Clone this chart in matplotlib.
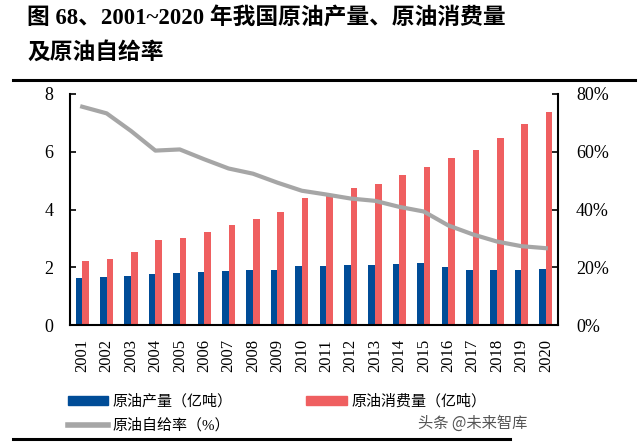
import numpy as np
import matplotlib
matplotlib.use('Agg')
import matplotlib.pyplot as plt
from matplotlib.patches import Patch
from matplotlib.lines import Line2D

years = [str(y) for y in range(2001, 2021)]
production = [1.64, 1.67, 1.70, 1.76, 1.81, 1.85, 1.86, 1.90, 1.89, 2.03,
              2.03, 2.07, 2.09, 2.11, 2.15, 2.00, 1.92, 1.89, 1.91, 1.95]
consumption = [2.20, 2.30, 2.54, 2.94, 3.01, 3.23, 3.46, 3.67, 3.90, 4.40,
               4.55, 4.76, 4.90, 5.20, 5.46, 5.78, 6.06, 6.48, 6.96, 7.36]
self_rate = [75.6, 73.3, 67.2, 60.4, 60.8, 57.4, 54.2, 52.4, 49.3, 46.5,
             45.2, 43.8, 43.0, 40.9, 39.3, 34.5, 31.4, 28.9, 27.3, 26.6]

BLUE = '#004C97'
RED = '#EF5F60'
GRAY = '#A6A6A6'
SERIF = ['Liberation Serif', 'Noto Sans CJK SC']
plt.rcParams['font.family'] = SERIF

fig = plt.figure(figsize=(6.4, 4.43), dpi=100)
W, H = 640, 443

# title
fig.text(27 / W, 1 - 19 / H, '图 68、2001~2020 年我国原油产量、原油消费量',
         fontsize=16.4, fontweight='bold', va='center', ha='left')
fig.text(27 / W, 1 - 53 / H, '及原油自给率',
         fontsize=16.4, fontweight='bold', va='center', ha='left')

# rules
fig.add_artist(Line2D([13 / W, 635 / W], [1 - 80 / H] * 2, color='black', lw=2.2))
fig.add_artist(Line2D([13 / W, 510 / W], [1 - 439 / H] * 2, color='black', lw=2.2))

ax = fig.add_axes([70 / W, 1 - 325 / H, (558 - 70) / W, (325 - 94) / H])
x = np.arange(len(years))
bw = 0.27
ax.bar(x - bw / 2, production, width=bw, color=BLUE, zorder=2)
ax.bar(x + bw / 2, consumption, width=bw, color=RED, zorder=2)
ax.set_xlim(-0.5, len(years) - 0.5)
ax.set_ylim(0, 8)
ax.set_yticks([0, 2, 4, 6, 8])
ax.set_xticks(x)
ax.set_xticklabels(years, rotation=90, fontsize=12)
ax.tick_params(axis='y', direction='in', length=4, width=1.2, pad=12, labelsize=13)
ax.tick_params(axis='x', length=0, pad=10)
for s in ['top', 'right']:
    ax.spines[s].set_visible(False)
ax.spines['left'].set_linewidth(1.5)
ax.spines['bottom'].set_linewidth(1.5)

ax2 = ax.twinx()
ax2.plot(x, self_rate, color=GRAY, lw=3, zorder=3)
ax2.set_ylim(0, 80)
ax2.set_yticks([0, 20, 40, 60, 80])
ax2.set_yticklabels(['0%', '20%', '40%', '60%', '80%'])
ax2.tick_params(axis='y', direction='in', length=4, width=1.2, pad=13, labelsize=13)
for s in ['top', 'left', 'bottom']:
    ax2.spines[s].set_visible(False)
ax2.spines['right'].set_linewidth(1.5)

handles = [Patch(color=BLUE), Line2D([], [], color=GRAY, lw=4), Patch(color=RED)]
labels = ['原油产量（亿吨）', '原油自给率（%）', '原油消费量（亿吨）']
fig.legend(handles, labels, ncol=2, loc='upper left',
           bbox_to_anchor=(60 / W, 1 - 387 / H), frameon=False,
           prop={'size': 10.8}, handlelength=2.7, handleheight=0.6,
           handletextpad=0.3, columnspacing=4.9, labelspacing=0.62, borderpad=0)

fig.text(418 / W, 1 - 423 / H, '头条 @未来智库', family=['Noto Sans CJK SC'],
         fontsize=11, color='#555555', va='center', ha='left')

fig.savefig('out.png', dpi=100)
